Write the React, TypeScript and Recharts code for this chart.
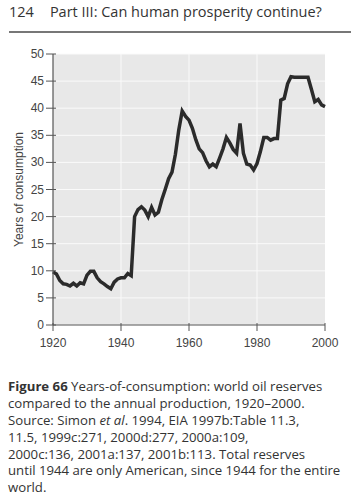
import React from 'react';
import { LineChart, Line, XAxis, YAxis, CartesianGrid } from 'recharts';

// Years-of-consumption, 1920-2000
const years = [
  1920, 1921, 1922, 1923, 1924, 1925, 1926, 1927, 1928, 1929,
  1930, 1931, 1932, 1933, 1934, 1935, 1936, 1937, 1938, 1939,
  1940, 1941, 1942, 1943, 1944, 1945, 1946, 1947, 1948, 1949,
  1950, 1951, 1952, 1953, 1954, 1955, 1956, 1957, 1958, 1959,
  1960, 1961, 1962, 1963, 1964, 1965, 1966, 1967, 1968, 1969,
  1970, 1971, 1972, 1973, 1974, 1975, 1976, 1977, 1978, 1979,
  1980, 1981, 1982, 1983, 1984, 1985, 1986, 1987, 1988, 1989,
  1990, 1991, 1992, 1993, 1994, 1995, 1996, 1997, 1998, 1999,
  2000,
];
const reserveYears = [
  9.8, 9.4, 8.2, 7.6, 7.5, 7.2, 7.7, 7.2, 7.8, 7.6,
  9.2, 9.9, 9.9, 8.7, 8.0, 7.6, 7.1, 6.7, 7.9, 8.5,
  8.7, 8.7, 9.5, 9.1, 20.0, 21.3, 21.8, 21.2, 20.0, 21.7,
  20.3, 20.8, 23.1, 25.0, 27.0, 28.2, 31.5, 36.0, 39.5, 38.5,
  37.8, 36.3, 34.2, 32.5, 31.8, 30.3, 29.2, 29.7, 29.2, 30.8,
  32.5, 34.6, 33.6, 32.4, 31.7, 37.2, 31.7, 29.7, 29.5, 28.6,
  29.8, 32.0, 34.6, 34.6, 34.1, 34.4, 34.4, 41.5, 41.8, 44.5,
  45.8, 45.7, 45.7, 45.7, 45.7, 45.7, 43.5, 41.2, 41.6, 40.6,
  40.3,
];
const xTicks = [1920, 1940, 1960, 1980, 2000];
const yTicks = [0, 5, 10, 15, 20, 25, 30, 35, 40, 45, 50];

const captionLines = [
  'Years-of-consumption: world oil reserves',
  'compared to the annual production, 1920–2000.',
  'Source: Simon ',
  '11.5, 1999c:271, 2000d:277, 2000a:109,',
  '2000c:136, 2001a:137, 2001b:113. Total reserves',
  'until 1944 are only American, since 1944 for the entire',
  'world.',
];

const data = years.map((y, i) => ({ year: y, value: reserveYears[i] }));

const tickFont = { fontFamily: '"Liberation Sans", Arial, sans-serif', fontSize: 12, fill: '#444' };

function YTick(props: any) {
  const { x, y, payload } = props;
  return (
    <g>
      <line x1={x + 1} x2={x + 11} y1={y} y2={y} stroke="#555" strokeWidth={1} />
      <text x={x - 1} y={y} dy={4} textAnchor="end" {...tickFont}>{payload.value}</text>
    </g>
  );
}

function XTick(props: any) {
  const { x, y, payload } = props;
  return (
    <g>
      <line x1={x} x2={x} y1={y - 10} y2={y - 2} stroke="#555" strokeWidth={1} />
      <text x={x} y={y + 14} textAnchor="middle" {...tickFont}>{payload.value}</text>
    </g>
  );
}

const lineStyle: React.CSSProperties = { height: 16.9, whiteSpace: 'nowrap' };

export default function App() {
  return (
    <div style={{ position: 'absolute', left: 0, top: 0, width: 351, height: 496, background: '#fff', overflow: 'hidden' }}>
      <div style={{ position: 'absolute', left: 9, top: 2, fontFamily: '"Open Sans", sans-serif', fontSize: 14.5, color: '#333', whiteSpace: 'nowrap' }}>
        124<span style={{ marginLeft: 16 }}>Part III: Can human prosperity continue?</span>
      </div>
      <div style={{ position: 'absolute', left: 9, top: 31, width: 342, height: 2, background: '#777' }} />

      <div style={{ position: 'absolute', left: 0, top: 0 }}>
        <LineChart width={351} height={360} data={data} margin={{ top: 54, right: 26, left: 23, bottom: 5 }}>
          <CartesianGrid fill="#e8e8e8" stroke="#fafafa" strokeWidth={1} verticalValues={[1940, 1960, 1980]} />
          <XAxis
            dataKey="year"
            type="number"
            domain={[1920, 2000]}
            ticks={xTicks}
            tick={<XTick />}
            tickLine={false}
            axisLine={{ stroke: '#555', strokeWidth: 1.2 }}
            height={30}
          />
          <YAxis
            type="number"
            domain={[0, 50]}
            ticks={yTicks}
            tick={<YTick />}
            tickLine={false}
            axisLine={{ stroke: '#555', strokeWidth: 1.2 }}
            width={30}
            label={{
              value: 'Years of consumption',
              angle: -90,
              position: 'insideLeft',
              offset: 0,
              dx: -4,
              style: { ...tickFont, textAnchor: 'middle' },
            }}
          />
          <Line
            dataKey="value"
            type="linear"
            stroke="#2b2b2b"
            strokeWidth={3.5}
            dot={false}
            isAnimationActive={false}
          />
        </LineChart>
      </div>

      <div style={{ position: 'absolute', left: 8, top: 378, fontFamily: '"Open Sans", sans-serif', fontSize: 13.2, lineHeight: '16.9px', color: '#333' }}>
        <div style={lineStyle}><b>Figure 66</b> {captionLines[0]}</div>
        <div style={lineStyle}>{captionLines[1]}</div>
        <div style={lineStyle}>{captionLines[2]}<i>et al</i>. 1994, EIA 1997b:Table 11.3,</div>
        <div style={lineStyle}>{captionLines[3]}</div>
        <div style={lineStyle}>{captionLines[4]}</div>
        <div style={lineStyle}>{captionLines[5]}</div>
        <div style={lineStyle}>{captionLines[6]}</div>
      </div>
    </div>
  );
}
